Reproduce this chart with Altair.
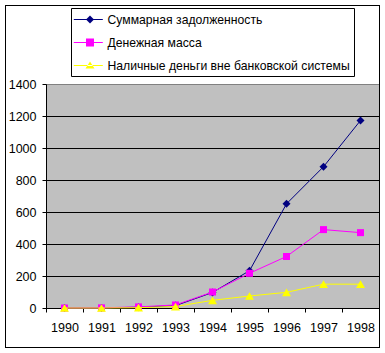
import altair as alt
import pandas as pd

years = ["1990", "1991", "1992", "1993", "1994", "1995", "1996", "1997", "1998"]
series_names = [
    "Суммарная задолженность",
    "Денежная масса",
    "Наличные деньги вне банковской системы",
]
debt = [0, 0, 5, 15, 97, 233, 651, 883, 1172]
money = [0, 1, 7, 19, 100, 217, 322, 490, 471]
cash = [0, 0, 2, 9, 48, 75, 98, 149, 149]
y_ticks = [0, 200, 400, 600, 800, 1000, 1200, 1400]

colors = ["#000080", "#FF00FF", "#FFFF00"]
shapes = ["diamond", "square", "triangle-up"]
marker_sizes = [64, 49, 80]

# legend symbols: line segment + marker (unit = sqrt(size)/2 px)
legend_paths = [
    "M-1.0875,-0.0625H2.5375V0.0625H-1.0875Z M0.4375,0L0.9375,-0.5L1.4375,0L0.9375,0.5Z",
    "M-1.0875,-0.0625H2.5375V0.0625H-1.0875Z M0.4375,-0.5H1.4375V0.5H0.4375Z",
    "M-1.0875,-0.0625H2.5375V0.0625H-1.0875Z M0.375,0.375L1.5,0.375L0.9375,-0.5Z",
]

rows = []
for name, vals in zip(series_names, [debt, money, cash]):
    for yr, v in zip(years, vals):
        rows.append({"year": yr, "value": v, "series": name})
df = pd.DataFrame(rows)

FONT = "Liberation Sans"
FS = 12.5

x_enc = alt.X(
    "year:N",
    sort=years,
    scale=alt.Scale(paddingInner=0, paddingOuter=0),
    axis=alt.Axis(
        title=None, labelAngle=0, tickBand="extent", tickSize=4, labelPadding=9,
        domainColor="black", tickColor="black", labelColor="black",
        labelFont=FONT, labelFontSize=FS, grid=False,
    ),
)
y_enc = alt.Y(
    "value:Q",
    scale=alt.Scale(domain=[0, 1400], nice=False),
    axis=alt.Axis(
        title=None, values=y_ticks, format="d", tickSize=4, labelPadding=6,
        domainColor="black", tickColor="black", labelColor="black",
        labelFont=FONT, labelFontSize=FS, grid=True,
        gridColor=alt.condition("datum.value === 1400", alt.value("#808080"), alt.value("black")),
    ),
)

base = alt.Chart(df)

frame = base.mark_rect(fill="transparent", stroke="black", strokeWidth=1).encode(
    x=alt.value(-40.5), x2=alt.value(333.5), y=alt.value(-78.5), y2=alt.value(263.5)
)

layers = [frame]
for name, col, shp, sz in zip(series_names, colors, shapes, marker_sizes):
    sub = base.transform_filter(alt.datum.series == name)
    layers.append(sub.mark_line(color=col, strokeWidth=1).encode(x=x_enc, y=y_enc))
    layers.append(
        sub.mark_point(filled=True, shape=shp, size=sz, color=col, opacity=1).encode(x=x_enc, y=y_enc)
    )

legend_kwargs = dict(
    title=None, orient="none", legendX=25, legendY=-76, padding=3.5,
    strokeColor="black", fillColor="white", labelFont=FONT, labelFontSize=12.2,
    labelColor="black", labelOffset=17, symbolSize=256, symbolStrokeWidth=0,
    rowPadding=8, labelLimit=400,
)
legend_layer = base.transform_filter("false").mark_point(filled=True, size=256, opacity=1).encode(
    color=alt.Color("series:N", scale=alt.Scale(domain=series_names, range=colors),
                    legend=alt.Legend(**legend_kwargs)),
    shape=alt.Shape("series:N", scale=alt.Scale(domain=series_names, range=legend_paths),
                    legend=alt.Legend(**legend_kwargs)),
)
layers.append(legend_layer)

chart = alt.layer(*layers).properties(
    width=333, height=224,
    autosize=alt.AutoSizeParams(type="none"),
    padding={"left": 46, "top": 84, "right": 6, "bottom": 45},
    background="white",
    view=alt.ViewBackground(fill="#C0C0C0", stroke="#808080", strokeWidth=1),
).configure_view(fill="#C0C0C0", stroke="#808080", strokeWidth=1)

chart.save("out.html", embed_options={"renderer": "svg", "actions": False})
